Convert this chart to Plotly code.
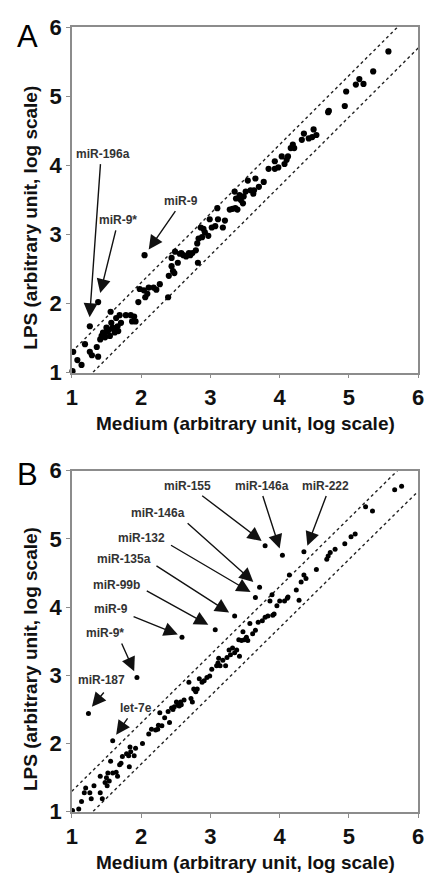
import plotly.graph_objects as go
import numpy as np

# ---------------- data ----------------
# Panel A: Medium vs LPS (log scale units)
a_medium = [1.01, 1.02, 1.08, 1.14, 1.19, 1.26, 1.26, 1.29, 1.36, 1.38, 1.38, 1.41, 1.43, 1.45, 1.48,
            1.50, 1.52, 1.55, 1.56, 1.57, 1.59, 1.62, 1.64, 1.66, 1.69, 1.71, 1.78, 1.85, 1.90, 1.92,
            1.87, 1.96, 1.98, 2.04, 2.05, 2.06, 2.11, 2.18, 2.27, 2.39, 2.40, 2.44, 2.46, 2.48, 2.44,
            2.49, 2.53, 2.58, 2.61, 2.65, 2.69, 2.74, 2.79, 2.81, 2.82, 2.83, 2.86, 2.88, 2.92, 2.97,
            2.99, 3.02, 3.07, 3.10, 3.11, 3.18, 3.21, 3.28, 3.32, 3.35, 3.37, 3.39, 3.42, 3.44, 3.47,
            3.51, 3.54, 3.58, 3.63, 3.65, 3.70, 3.77, 3.84, 3.93, 3.93, 3.98, 4.03, 4.07, 4.12, 4.16,
            4.19, 4.21, 4.32, 4.35, 4.42, 4.47, 4.49, 4.53, 4.70, 4.71, 4.94, 4.96, 5.10, 5.15, 5.21,
            5.35, 5.57, 1.47, 1.53, 1.60, 1.67, 2.09, 2.22, 2.56, 2.71, 2.90, 3.36, 3.48, 3.62, 4.10]
a_lps = [1.02, 1.30, 1.18, 1.11, 1.41, 1.67, 1.30, 1.25, 1.37, 1.23, 2.02, 1.48, 1.53, 1.58, 1.51,
         1.65, 1.60, 1.53, 1.88, 1.72, 1.65, 1.58, 1.79, 1.67, 1.83, 1.72, 1.83, 1.83, 1.81, 1.74,
         1.74, 2.02, 2.21, 2.19, 2.70, 2.09, 2.23, 2.23, 2.28, 2.09, 2.40, 2.54, 2.47, 2.44, 2.66,
         2.75, 2.59, 2.73, 2.70, 2.68, 2.73, 2.73, 2.77, 2.87, 2.59, 2.94, 3.10, 2.96, 3.03, 2.98,
         3.22, 3.10, 3.12, 3.38, 3.22, 3.10, 3.20, 3.36, 3.37, 3.62, 3.52, 3.36, 3.57, 3.50, 3.45,
         3.62, 3.78, 3.64, 3.64, 3.81, 3.69, 3.76, 3.95, 3.95, 4.06, 3.97, 4.13, 4.02, 4.13, 4.25,
         4.30, 4.25, 4.37, 4.46, 4.39, 4.41, 4.52, 4.44, 4.77, 4.79, 4.86, 5.07, 5.17, 5.25, 5.18,
         5.36, 5.65, 1.56, 1.62, 1.63, 1.60, 2.14, 2.20, 2.72, 2.70, 3.08, 3.38, 3.55, 3.59, 4.08]

# Panel B
b_medium = [1.01, 1.10, 1.14, 1.18, 1.20, 1.26, 1.28, 1.32, 1.24, 1.41, 1.41, 1.44, 1.48, 1.50, 1.52,
            1.51, 1.54, 1.56, 1.59, 1.59, 1.64, 1.66, 1.69, 1.71, 1.73, 1.79, 1.82, 1.84, 1.85, 1.83,
            1.90, 1.92, 1.94, 2.02, 2.11, 2.15, 2.21, 2.24, 2.27, 2.30, 2.34, 2.39, 2.41, 2.44, 2.46,
            2.48, 2.51, 2.53, 2.57, 2.58, 2.62, 2.59, 2.69, 2.72, 2.74, 2.76, 2.79, 2.81, 2.84, 2.88,
            2.91, 2.95, 2.99, 3.02, 3.07, 3.09, 3.11, 3.14, 3.18, 3.22, 3.24, 3.27, 3.29, 3.32, 3.35,
            3.35, 3.38, 3.41, 3.42, 3.47, 3.49, 3.52, 3.54, 3.61, 3.65, 3.65, 3.71, 3.69, 3.75, 3.79,
            3.83, 3.86, 3.89, 3.92, 3.96, 3.79, 4.04, 4.00, 4.07, 4.11, 4.14, 4.24, 4.28, 4.31, 4.35,
            4.38, 4.35, 4.53, 4.68, 4.70, 4.73, 4.80, 4.94, 5.03, 5.09, 5.24, 5.34, 5.66, 5.76,
            2.25, 2.55, 2.78, 3.12, 3.45, 3.57, 3.90, 4.12]
b_lps = [1.02, 1.04, 1.15, 1.28, 1.35, 1.28, 1.19, 1.38, 2.44, 1.28, 1.52, 1.19, 1.43, 1.50, 1.57,
         1.38, 1.45, 1.74, 1.57, 2.04, 1.58, 1.52, 1.69, 1.71, 1.81, 1.85, 1.82, 1.95, 1.88, 1.66,
         1.82, 1.93, 2.97, 2.00, 2.14, 2.21, 2.20, 2.21, 2.45, 2.26, 2.38, 2.47, 2.31, 2.52, 2.50,
         2.54, 2.61, 2.57, 2.61, 2.57, 2.64, 3.56, 2.90, 2.66, 2.61, 2.80, 2.76, 2.80, 2.95, 2.90,
         2.92, 2.97, 2.99, 3.09, 3.67, 3.14, 3.18, 3.14, 3.22, 3.14, 3.26, 3.37, 3.30, 3.40, 3.87,
         3.33, 3.37, 3.52, 3.28, 3.64, 3.52, 3.56, 3.51, 3.61, 3.66, 4.14, 4.29, 3.78, 3.80, 3.85,
         3.87, 4.09, 4.18, 3.90, 4.02, 4.90, 4.76, 4.09, 4.09, 4.13, 4.47, 4.25, 4.10, 4.37, 4.47,
         4.42, 4.81, 4.55, 4.70, 4.75, 4.80, 4.85, 4.93, 5.03, 5.07, 5.47, 5.41, 5.72, 5.77,
         2.27, 2.55, 2.78, 3.25, 3.51, 3.76, 3.88, 4.15]

tick_vals = [1, 2, 3, 4, 5, 6]
axis_range = [1, 6]
fold_offsets = [np.log10(2), -np.log10(2)]   # two-fold change bands

# annotations: (label, label_x, label_y, tail_x, tail_y, head_x, head_y)
a_notes = [
    ("miR-196a", 1.454, 4.16, 1.415, 4.04, 1.257, 1.80),
    ("miR-9*", 1.664, 3.21, 1.64, 3.08, 1.41, 2.15),
    ("miR-9", 2.576, 3.49, 2.51, 3.36, 2.11, 2.78),
]
b_notes = [
    ("miR-155", 2.67, 5.77, 2.86, 5.65, 3.74, 4.97),
    ("miR-146a", 3.74, 5.77, 3.75, 5.65, 4.00, 4.86),
    ("miR-222", 4.66, 5.77, 4.68, 5.65, 4.40, 4.90),
    ("miR-146a", 2.25, 5.38, 2.65, 5.25, 3.62, 4.37),
    ("miR-132", 2.01, 5.01, 2.41, 4.92, 3.58, 4.22),
    ("miR-135a", 1.76, 4.70, 2.20, 4.62, 3.27, 3.92),
    ("miR-99b", 1.64, 4.32, 2.06, 4.25, 2.97, 3.74),
    ("miR-9", 1.57, 3.97, 1.87, 3.87, 2.53, 3.60),
    ("miR-9*", 1.48, 3.62, 1.71, 3.49, 1.90, 3.06),
    ("miR-187", 1.43, 2.93, 1.48, 2.77, 1.29, 2.54),
    ("let-7e", 1.92, 2.52, 1.82, 2.39, 1.64, 2.13),
]

# ---------------- figure ----------------
W, H = 432, 886
FONT = "Liberation Sans, Arial, sans-serif"

def px_to_paper_y(py):
    return 1 - py / H

fig = go.Figure()

panels = [
    dict(xs=a_medium, ys=a_lps, notes=a_notes, xa="x", ya="y", size=6.2,
         top=15.7, bottom=371, letter="A", letter_y=25),
    dict(xs=b_medium, ys=b_lps, notes=b_notes, xa="x2", ya="y2", size=5.0,
         top=472, bottom=823, letter="B", letter_y=476),
]

line_x = np.array(axis_range, dtype=float)
annotations = []
for p in panels:
    for off in fold_offsets:
        fig.add_trace(go.Scatter(
            x=line_x, y=line_x + off, mode="lines", xaxis=p["xa"], yaxis=p["ya"],
            line=dict(color="#222", width=1.4, dash="dot"), hoverinfo="skip", showlegend=False))
    fig.add_trace(go.Scatter(
        x=p["xs"], y=p["ys"], mode="markers", xaxis=p["xa"], yaxis=p["ya"],
        marker=dict(color="black", size=p["size"]), cliponaxis=False, showlegend=False))
    for (lab, lx, ly, tx, ty, hx, hy) in p["notes"]:
        annotations.append(dict(
            x=hx, y=hy, ax=tx, ay=ty, xref=p["xa"], yref=p["ya"],
            axref=p["xa"], ayref=p["ya"], text="", showarrow=True,
            arrowhead=2, arrowsize=2.0, arrowwidth=1.4, arrowcolor="#111", standoff=0))
        annotations.append(dict(
            x=lx, y=ly, xref=p["xa"], yref=p["ya"], text="<b>" + lab + "</b>",
            showarrow=False, xanchor="center", yanchor="middle",
            font=dict(family=FONT, size=12, color="#333")))
    # panel letter
    annotations.append(dict(
        x=22 / W, y=px_to_paper_y(p["letter_y"]), xref="paper", yref="paper",
        text=p["letter"], showarrow=False, xanchor="center", yanchor="middle",
        font=dict(family=FONT, size=31, color="black")))
    # axis titles
    annotations.append(dict(
        x=(67.7 + 424) / 2 / W, y=px_to_paper_y(p["bottom"] + 52), xref="paper", yref="paper",
        text="<b>Medium (arbitrary unit, log scale)</b>", showarrow=False,
        xanchor="center", yanchor="middle", font=dict(family=FONT, size=19, color="#111")))
    annotations.append(dict(
        x=25 / W, y=px_to_paper_y((p["top"] + p["bottom"]) / 2 + 18), xref="paper", yref="paper",
        text="<b>LPS (arbitrary unit, log scale)</b>", showarrow=False, textangle=-90,
        xanchor="center", yanchor="middle", font=dict(family=FONT, size=19, color="#111")))

axis_common = dict(
    range=axis_range, tickvals=tick_vals, showgrid=False, zeroline=False,
    showline=True, linecolor="#8c8c8c", linewidth=1.5, mirror=True,
    ticks="outside", ticklen=4, tickcolor="#8c8c8c", tickwidth=1,
    tickfont=dict(family=FONT, size=22, color="#111", weight="bold"),
)

xdom = [67.7 / W, 424 / W]
fig.update_layout(
    width=W, height=H, margin=dict(l=0, r=0, t=0, b=0),
    paper_bgcolor="white", plot_bgcolor="white",
    xaxis=dict(domain=xdom, anchor="y", **axis_common),
    yaxis=dict(domain=[px_to_paper_y(371), px_to_paper_y(15.7)], anchor="x", **axis_common),
    xaxis2=dict(domain=xdom, anchor="y2", **axis_common),
    yaxis2=dict(domain=[px_to_paper_y(823), px_to_paper_y(472)], anchor="x2", **axis_common),
    annotations=annotations,
    showlegend=False,
)

fig.write_html(
    "out.html",
    config={"displayModeBar": False},
    post_script="document.body.style.margin='0';document.body.style.overflow='hidden';",
)
